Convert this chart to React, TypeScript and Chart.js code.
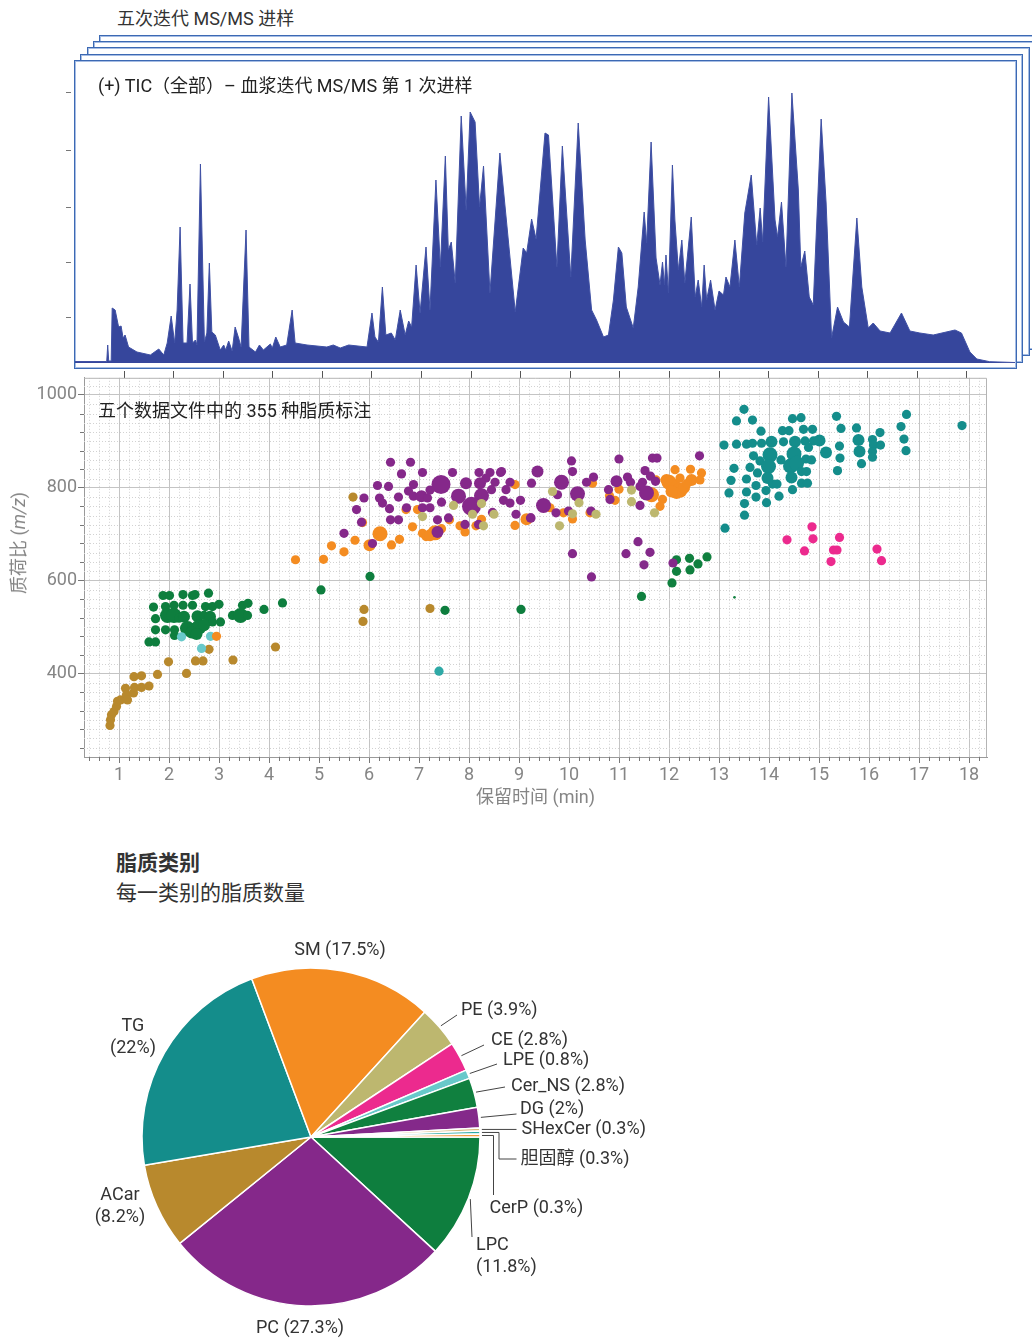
import React, { useEffect, useRef } from 'react';
import { Chart, registerables } from 'chart.js';

Chart.register(...registerables);

const FONT = "Roboto, 'Noto Sans CJK SC', 'Noto Sans', sans-serif";
Chart.defaults.font.family = FONT;

// ---------------- TIC chromatogram: [retention time (min), intensity] ----------------
const TIC_POINTS = [
  [0.02,1.5],[0.66,1.5],[0.68,18],[0.70,2],[0.75,2],[0.77,55],[0.83,53],[0.90,36],[0.95,37],[0.99,25],[1.03,28],[1.10,16],[1.27,11],[1.54,8],[1.71,14],[1.81,8],[1.88,20],[1.96,47],[2.03,20],[2.08,53],[2.14,136],[2.20,20],[2.28,20],[2.34,79],[2.39,20],[2.45,23],[2.48,18],[2.55,199],[2.63,21],[2.68,30],[2.73,100],[2.78,31],[2.85,28],[2.95,13],[3.02,18],[3.06,13],[3.12,22],[3.19,12],[3.25,36],[3.32,25],[3.37,16],[3.47,133],[3.53,16],[3.66,11],[3.74,18],[3.82,13],[3.96,19],[4.00,15],[4.07,26],[4.16,16],[4.29,18],[4.40,53],[4.46,20],[4.70,18],[5.10,16],[5.23,18],[5.37,15],[5.54,18],[5.91,16],[6.01,50],[6.07,26],[6.14,21],[6.22,76],[6.29,28],[6.40,30],[6.48,23],[6.58,53],[6.68,28],[6.75,42],[6.81,36],[6.90,98],[6.98,50],[7.10,116],[7.18,53],[7.30,183],[7.39,96],[7.49,207],[7.55,113],[7.61,121],[7.69,80],[7.81,247],[7.91,153],[7.99,251],[8.09,241],[8.18,156],[8.26,197],[8.39,70],[8.59,210],[8.90,51],[9.06,115],[9.13,110],[9.23,144],[9.32,124],[9.50,230],[9.57,228],[9.74,96],[9.85,217],[10.02,86],[10.17,240],[10.31,123],[10.44,53],[10.54,43],[10.68,26],[10.78,28],[10.88,63],[10.98,116],[11.05,110],[11.14,56],[11.28,35],[11.38,76],[11.50,151],[11.55,120],[11.64,221],[11.74,105],[11.82,78],[11.87,101],[11.91,78],[11.94,108],[11.99,70],[12.07,198],[12.12,143],[12.19,93],[12.26,123],[12.32,80],[12.45,146],[12.53,66],[12.59,83],[12.66,56],[12.71,98],[12.76,63],[12.84,83],[12.93,53],[13.01,72],[13.10,68],[13.15,86],[13.23,76],[13.33,123],[13.42,76],[13.53,150],[13.66,188],[13.77,118],[13.84,155],[13.89,121],[14.01,266],[14.14,143],[14.19,126],[14.27,161],[14.36,96],[14.48,270],[14.61,173],[14.66,96],[14.74,112],[14.83,66],[14.91,58],[15.07,244],[15.17,160],[15.28,25],[15.40,56],[15.52,41],[15.64,36],[15.79,145],[15.89,76],[16.02,35],[16.12,40],[16.26,32],[16.46,30],[16.69,50],[16.86,32],[17.06,30],[17.33,28],[17.77,33],[17.90,30],[18.07,11],[18.21,4],[18.47,1.3],[18.98,0.5],
];
const TIC_X_TICKS = [1,2,3,4,5,6,7,8,9,10,11,12,13,14,15,16,17,18];
const TIC_Y_TICKS = [46, 101, 156, 213, 271];

// ---------------- Lipid annotations: [retention time (min), m/z, abundance class] ----------------
const ACAR_PTS = [[0.82,288,1],[0.83,300,1],[0.85,311,1],[0.9,318,1],[0.95,329,1],[0.97,340,1],[1.03,343,1],[1.13,368,1],[1.15,354,1],[1.17,343,1],[1.29,358,1],[1.31,370,1],[1.45,370,1],[1.3,393,1],[1.45,395,1],[1.6,373,1],[1.77,398,1],[1.99,425,1],[2.35,400,1],[2.53,427,1],[2.68,427,1],[2.8,452,1],[3.28,429,1],[4.13,457,1],[5.68,780,1],[5.9,538,1],[5.88,512,1],[7.22,540,1]];
const LPC_PTS = [[1.88,568,1],[2.01,568,1],[2.28,570,1],[2.47,568,1],[2.52,570,1],[2.79,573,1],[1.69,543,1],[1.93,544,1],[2.1,547,1],[2.28,547,1],[2.47,547,1],[2.73,544,1],[2.87,544,1],[3.0,549,1],[1.73,518,1],[1.97,525,3],[2.1,525,3],[2.2,519,1],[2.3,522,2],[2.57,523,2],[2.7,525,1],[2.82,522,2],[2.87,511,1],[3.03,511,1],[1.73,494,1],[1.93,494,1],[2.11,494,1],[2.11,482,1],[2.37,497,3],[2.5,493,3],[2.6,500,3],[2.7,504,2],[2.45,488,2],[2.55,485,2],[1.6,468,1],[1.73,468,1],[3.27,525,1],[3.43,525,3],[3.57,525,1],[3.47,547,1],[3.58,551,1],[3.9,538,1],[4.27,552,1],[5.04,580,1],[6.02,609,1],[7.52,536,1],[9.04,538,1]];
const CERNS_PTS = [[12.15,645,1],[12.41,648,1],[12.58,636,1],[12.76,651,1],[12.15,620,1],[12.42,623,1],[12.06,595,1],[11.45,566,1],[13.31,564,0]];
const DG_PTS = [[10.07,658,1],[10.45,608,1],[11.14,658,1],[11.38,684,1],[11.62,661,1],[11.5,634,1],[12.08,638,1]];
const CE_PTS = [[14.36,688,1],[14.86,716,1],[14.88,690,1],[14.71,664,1],[15.41,693,1],[15.29,666,1],[15.36,666,1],[15.24,641,1],[16.16,668,1],[16.25,643,1]];
const LPE_PTS = [[2.25,479,1],[2.83,480,1],[2.65,454,1]];
const PE_PTS = [[7.07,738,1],[7.69,762,1],[8.07,743,1],[8.25,766,1],[8.29,718,1],[8.5,743,1],[9.67,792,1],[10.2,768,1],[10.54,743,1],[10.07,744,1],[9.81,718,1],[11.25,795,1],[11.25,770,1],[11.71,746,1]];
const SM_PTS = [[2.95,480,1],[4.53,645,1],[5.09,646,1],[5.25,675,1],[5.5,662,1],[5.72,687,1],[6.01,676,2],[6.22,701,3],[6.45,677,1],[6.61,689,1],[5.87,725,1],[6.74,753,1],[6.97,753,1],[6.87,716,1],[7.07,702,1],[7.14,695,1],[7.32,703,3],[7.22,698,2],[7.61,731,1],[7.82,718,1],[7.92,705,1],[8.14,718,1],[8.25,732,1],[8.92,807,1],[8.92,719,1],[9.15,732,2],[9.62,757,1],[9.89,746,1],[10.07,733,1],[10.42,746,1],[10.47,810,1],[10.81,783,1],[11.0,797,1],[10.92,773,1],[11.65,785,3],[11.74,817,1],[11.87,775,1],[11.82,760,1],[12.12,839,1],[12.43,840,1],[12.65,832,1],[12.45,817,2],[12.62,817,1],[12.09,803,3],[12.0,812,3],[12.22,795,3],[11.95,817,2],[12.15,789,2],[12.05,792,2],[12.22,821,1],[12.3,800,2],[12.36,809,1],[7.45,712,1]];
const PC_PTS = [[5.5,702,1],[5.75,753,1],[5.85,726,1],[5.9,778,1],[6.07,680,1],[6.17,805,1],[6.39,803,1],[6.43,855,1],[6.83,855,1],[6.65,830,1],[7.07,833,1],[7.67,833,1],[8.2,833,1],[8.42,833,1],[8.63,833,1],[8.34,821,1],[6.89,807,1],[7.44,807,4],[7.94,810,2],[8.22,810,2],[8.52,812,1],[8.82,812,1],[6.21,778,1],[6.27,767,1],[6.59,780,1],[6.79,793,1],[6.89,782,1],[7.05,782,2],[7.22,795,1],[7.17,778,1],[7.79,782,3],[8.25,783,3],[8.45,796,1],[8.74,796,1],[8.69,773,1],[8.82,767,1],[9.03,773,1],[6.41,755,1],[6.75,757,1],[7.07,757,1],[7.22,757,1],[7.45,769,1],[8.05,760,4],[8.47,747,1],[6.43,731,1],[6.59,731,1],[7.37,731,1],[7.59,735,1],[8.94,743,1],[7.92,721,1],[8.19,721,1],[7.37,705,2],[8.65,835,1],[9.37,835,2],[9.25,810,1],[9.23,735,1],[10.05,858,1],[11.0,862,1],[11.67,864,1],[11.76,864,1],[12.61,869,1],[10.07,835,1],[11.52,837,1],[9.85,812,3],[10.35,812,1],[10.49,823,1],[10.95,814,2],[11.17,823,1],[11.23,812,1],[11.47,812,1],[11.63,825,1],[11.73,814,1],[10.17,787,3],[9.77,785,1],[10.79,796,1],[10.82,775,1],[11.42,803,1],[11.55,789,3],[9.49,762,3],[9.24,735,1],[9.74,746,1],[9.99,750,1],[10.44,750,1],[11.42,762,1]];
const TG_PTS = [[13.5,969,1],[13.35,944,1],[13.67,946,1],[14.47,949,1],[14.64,951,1],[15.35,954,1],[16.75,958,1],[13.84,922,1],[14.27,923,1],[14.4,923,1],[14.69,926,1],[14.87,926,1],[15.44,928,1],[15.75,929,1],[16.64,932,1],[16.22,919,1],[13.1,892,1],[13.35,894,1],[13.55,894,1],[13.67,896,1],[13.85,896,1],[14.05,899,2],[14.29,899,1],[14.52,899,2],[14.72,901,1],[14.89,901,1],[15.01,902,2],[15.41,890,1],[15.79,903,2],[16.07,904,1],[16.09,892,1],[16.23,892,1],[16.7,905,1],[13.69,869,1],[14.02,871,3],[14.24,860,1],[14.5,873,3],[14.79,887,1],[14.74,862,1],[14.85,860,1],[15.14,876,2],[15.42,864,1],[15.81,878,2],[16.07,878,1],[16.07,866,1],[16.74,880,1],[13.82,858,1],[13.3,842,1],[13.62,844,1],[13.99,846,3],[14.43,847,3],[14.55,853,3],[15.37,837,1],[15.85,852,1],[13.24,816,1],[13.55,819,1],[13.77,832,1],[13.97,821,2],[14.45,822,2],[14.65,835,1],[14.75,835,1],[13.74,805,1],[14.07,808,1],[14.16,808,1],[14.65,810,1],[14.77,810,1],[13.2,789,1],[13.55,791,1],[13.94,794,1],[14.47,796,1],[13.74,780,1],[14.2,782,1],[13.51,766,1],[13.95,768,1],[13.51,741,1],[13.12,713,1],[17.86,934,1]];
const CHOL_PTS = [[7.4,405,1]];

const SCATTER_X_TICK_VALUES = [1,2,3,4,5,6,7,8,9,10,11,12,13,14,15,16,17,18];
const SCATTER_Y_TICK_VALUES = [400, 600, 800, 1000];
const SCATTER_X_RANGE = { min: 0.3, max: 18.36, step: 1, minor: 0.2 };
const SCATTER_Y_RANGE = { min: 220, max: 1037, step: 200, minorGrid: 20, minorTick: 40 };

// ---------------- Pie: lipid counts per class ----------------
const PIE_CLASSES = ['LPC', 'PC', 'ACar', 'TG', 'SM', 'PE', 'CE', 'LPE', 'Cer_NS', 'DG', 'SHexCer', '胆固醇', 'CerP'];
const PIE_COUNTS = [42, 97, 29, 78, 62, 14, 10, 3, 10, 7, 1, 1, 1];

// ---------------- styles ----------------
const COLORS = {
  LPC: '#0e7e3e', PC: '#85288a', ACar: '#b8892d', TG: '#148d8b', SM: '#f48c21', PE: '#bdb76f',
  CE: '#ec2a8e', LPE: '#68c9ca', Cer_NS: '#10803f', DG: '#84298a', SHexCer: '#d9b77a', '胆固醇': '#2ea9a6', CerP: '#f39a3c',
};
const SIZE_RADIUS = [1.3, 4.6, 6, 7.5, 9.5];

// label layout relative to pie centre (px)
const PIE_LABEL_LAYOUT = [
  { at: [165, 108], align: 'left', split: true, leader: [[161, 100]] },           // LPC
  { at: [-11, 191], align: 'center', split: false },                                 // PC
  { at: [-191, 58], align: 'center', split: true },                                  // ACar
  { at: [-178, -111], align: 'center', split: true },                                // TG
  { at: [29, -187], align: 'center', split: false },                                 // SM
  { at: [150, -127], align: 'left', split: false, leader: [[146, -122]] },           // PE
  { at: [180, -97], align: 'left', split: false, leader: [[173, -92]] },             // CE
  { at: [192, -77], align: 'left', split: false, leader: [[186, -73]] },             // LPE
  { at: [200, -51], align: 'left', split: false, leader: [[194, -50]] },             // Cer_NS
  { at: [209, -28], align: 'left', split: false, leader: [[205.5, -23]] },           // DG
  { at: [210.5, -8], align: 'left', split: false, leader: [[205.5, null]] },         // SHexCer
  { at: [209.5, 22], align: 'left', split: false, leader: [[188, null], [188, 22], [205.5, 22]] }, // 胆固醇
  { at: [178.5, 71], align: 'left', split: false, leader: [[182.5, null], [182.5, 58]] },          // CerP
];

const ticDecor = {
  id: 'ticDecor',
  afterDraw(chart: any) {
    const { ctx, chartArea: a, scales } = chart;
    ctx.save();
    ctx.strokeStyle = '#555';
    ctx.lineWidth = 1;
    for (const t of TIC_X_TICKS) {
      const px = Math.round(scales.x.getPixelForValue(t)) + 0.5;
      ctx.beginPath();
      ctx.moveTo(px, a.bottom + 8);
      ctx.lineTo(px, a.bottom + 15);
      ctx.stroke();
    }
    ctx.strokeStyle = '#777';
    for (const v of TIC_Y_TICKS) {
      const py = Math.round(scales.y.getPixelForValue(v)) + 0.5;
      ctx.beginPath();
      ctx.moveTo(a.left - 8, py);
      ctx.lineTo(a.left - 3, py);
      ctx.stroke();
    }
    ctx.restore();
  },
};

const scatterDecor = {
  id: 'scatterDecor',
  beforeDatasetsDraw(chart: any) {
    const { ctx, chartArea: a, scales: { x, y } } = chart;
    ctx.save();
    ctx.beginPath();
    ctx.rect(a.left, a.top, a.width, a.height);
    ctx.clip();
    ctx.strokeStyle = '#d2d2d2';
    ctx.lineWidth = 1;
    ctx.setLineDash([1, 2]);
    const xs = SCATTER_X_RANGE, ys = SCATTER_Y_RANGE;
    const nx = Math.round(xs.step / xs.minor);
    for (let k = Math.ceil(xs.min / xs.minor); k * xs.minor <= xs.max; k++) {
      if (k % nx === 0) continue;
      const px = Math.round(x.getPixelForValue(k * xs.minor)) + 0.5;
      ctx.beginPath(); ctx.moveTo(px, a.top); ctx.lineTo(px, a.bottom); ctx.stroke();
    }
    const ny = Math.round(ys.step / ys.minorGrid);
    for (let k = Math.ceil(ys.min / ys.minorGrid); k * ys.minorGrid <= ys.max; k++) {
      if (k % ny === 0) continue;
      const py = Math.round(y.getPixelForValue(k * ys.minorGrid)) + 0.5;
      ctx.beginPath(); ctx.moveTo(a.left, py); ctx.lineTo(a.right, py); ctx.stroke();
    }
    ctx.restore();
  },
  afterDatasetsDraw(chart: any) {
    const { ctx, chartArea: a, scales: { x, y } } = chart;
    const xs = SCATTER_X_RANGE, ys = SCATTER_Y_RANGE;
    ctx.save();
    ctx.strokeStyle = '#b4b4b4';
    ctx.lineWidth = 1;
    ctx.beginPath();
    ctx.moveTo(a.left, a.top + 0.5); ctx.lineTo(a.right - 0.5, a.top + 0.5); ctx.lineTo(a.right - 0.5, a.bottom);
    ctx.stroke();
    ctx.strokeStyle = '#777';
    const nx = Math.round(xs.step / xs.minor);
    for (let k = Math.ceil(xs.min / xs.minor); k * xs.minor <= xs.max; k++) {
      if (k % nx === 0) continue;
      const px = Math.round(x.getPixelForValue(k * xs.minor)) + 0.5;
      ctx.beginPath(); ctx.moveTo(px, a.bottom); ctx.lineTo(px, a.bottom + 4); ctx.stroke();
    }
    const ny = Math.round(ys.step / ys.minorTick);
    for (let k = Math.ceil(ys.min / ys.minorTick); k * ys.minorTick <= ys.max; k++) {
      if (k % ny === 0) continue;
      const py = Math.round(y.getPixelForValue(k * ys.minorTick)) + 0.5;
      ctx.beginPath(); ctx.moveTo(a.left - 4, py); ctx.lineTo(a.left, py); ctx.stroke();
    }
    ctx.restore();
  },
};

const pieLabels = {
  id: 'pieLabels',
  afterDraw(chart: any) {
    const { ctx } = chart;
    const meta = chart.getDatasetMeta(0);
    const total = PIE_COUNTS.reduce((s, v) => s + v, 0);
    ctx.save();
    ctx.font = `18px ${FONT}`;
    ctx.fillStyle = '#333';
    ctx.strokeStyle = '#444';
    ctx.lineWidth = 1;
    ctx.textBaseline = 'middle';
    meta.data.forEach((arc: any, i: number) => {
      const p = arc.getProps(['x', 'y', 'startAngle', 'endAngle', 'outerRadius'], true);
      const lay = PIE_LABEL_LAYOUT[i];
      const mid = (p.startAngle + p.endAngle) / 2;
      const sx = p.x + Math.cos(mid) * (p.outerRadius + 2);
      const sy = p.y + Math.sin(mid) * (p.outerRadius + 2);
      if (lay.leader) {
        ctx.beginPath();
        ctx.moveTo(sx, sy);
        for (const [dx, dy] of lay.leader) ctx.lineTo(p.x + dx, dy === null ? sy : p.y + dy);
        ctx.stroke();
      }
      const pct = parseFloat(((PIE_COUNTS[i] / total) * 100).toFixed(1));
      const lines = lay.split ? [PIE_CLASSES[i], `(${pct}%)`] : [`${PIE_CLASSES[i]} (${pct}%)`];
      ctx.textAlign = lay.align;
      lines.forEach((ln, j) => ctx.fillText(ln, p.x + lay.at[0], p.y + lay.at[1] + j * 22));
    });
    ctx.restore();
  },
};

function useChart(ref: any, build: () => any) {
  useEffect(() => {
    const chart = new Chart(ref.current.getContext('2d'), build());
    return () => chart.destroy();
  }, []);
}

const tickFont = { size: 18, family: FONT };

export default function App() {
  const ticRef = useRef<HTMLCanvasElement>(null);
  const scatterRef = useRef<HTMLCanvasElement>(null);
  const pieRef = useRef<HTMLCanvasElement>(null);

  useChart(ticRef, () => ({
    type: 'line',
    data: {
      datasets: [{
        data: TIC_POINTS.map(([x, y]) => ({ x, y })),
        fill: 'origin',
        backgroundColor: '#36469c',
        borderColor: '#3f50a4',
        borderWidth: 1,
        pointRadius: 0,
        tension: 0,
      }],
    },
    options: {
      responsive: false, animation: false, events: [],
      layout: { padding: { left: 14, right: 4, top: 3, bottom: 17 } },
      scales: {
        x: { type: 'linear', min: 0, max: 19, display: false },
        y: { type: 'linear', min: 0, max: 300, display: false },
      },
      plugins: { legend: { display: false }, tooltip: { enabled: false } },
    },
    plugins: [ticDecor],
  }));

  useChart(scatterRef, () => {
    const series = [
      { label: 'PE', color: COLORS.PE, pts: PE_PTS },
      { label: 'DG', color: COLORS.DG, pts: DG_PTS },
      { label: 'PC', color: COLORS.PC, pts: PC_PTS },
      { label: 'SM', color: COLORS.SM, pts: SM_PTS },
      { label: '胆固醇', color: COLORS['胆固醇'], pts: CHOL_PTS },
      { label: 'CE', color: COLORS.CE, pts: CE_PTS },
      { label: 'TG', color: COLORS.TG, pts: TG_PTS },
      { label: 'Cer_NS', color: COLORS.Cer_NS, pts: CERNS_PTS },
      { label: 'LPE', color: COLORS.LPE, pts: LPE_PTS },
      { label: 'LPC', color: COLORS.LPC, pts: LPC_PTS },
      { label: 'ACar', color: COLORS.ACar, pts: ACAR_PTS },
    ];
    return {
      type: 'bubble',
      data: {
        datasets: series.map((s) => ({
          label: s.label,
          data: s.pts.map(([x, y, sz]) => ({ x, y, r: SIZE_RADIUS[sz] })),
          backgroundColor: s.color,
          borderWidth: 0,
        })),
      },
      options: {
        responsive: false, animation: false, events: [],
        layout: { padding: { top: 10, right: 13, left: 0, bottom: 0 } },
        scales: {
          x: {
            type: 'linear', min: SCATTER_X_RANGE.min, max: SCATTER_X_RANGE.max,
            afterBuildTicks: (s: any) => { s.ticks = SCATTER_X_TICK_VALUES.map((value) => ({ value })); },
            ticks: { color: '#858585', font: tickFont, padding: 2, maxRotation: 0, autoSkip: false, callback: (v: any) => String(v) },
            grid: { color: '#c4c4c4', tickColor: '#777', tickLength: 6 },
            border: { color: '#9a9a9a' },
            title: { display: true, text: '保留时间 (min)', color: '#858585', font: tickFont, padding: { top: 0, bottom: 7 } },
            afterFit: (s: any) => { s.height = 59; },
          },
          y: {
            type: 'linear', min: SCATTER_Y_RANGE.min, max: SCATTER_Y_RANGE.max,
            afterBuildTicks: (s: any) => { s.ticks = SCATTER_Y_TICK_VALUES.map((value) => ({ value })); },
            ticks: { color: '#858585', font: tickFont, padding: 1, autoSkip: false, callback: (v: any) => String(v) },
            grid: { color: '#c4c4c4', tickColor: '#777', tickLength: 6 },
            border: { color: '#9a9a9a' },
            afterFit: (s: any) => { s.width = 84; },
          },
        },
        plugins: { legend: { display: false }, tooltip: { enabled: false } },
      },
      plugins: [scatterDecor],
    };
  });

  useChart(pieRef, () => ({
    type: 'pie',
    data: {
      labels: PIE_CLASSES,
      datasets: [{
        data: PIE_COUNTS,
        backgroundColor: PIE_CLASSES.map((c) => (COLORS as any)[c]),
        borderColor: '#ffffff',
        borderWidth: 1.5,
        hoverOffset: 0,
      }],
    },
    options: {
      responsive: false, animation: false, events: [],
      rotation: 90,
      radius: 169,
      layout: { padding: { left: 52, right: 190, top: 38, bottom: 32 } },
      plugins: { legend: { display: false }, tooltip: { enabled: false } },
    },
    plugins: [pieLabels],
  }));

  const text = (left: number, cy: number, size: number, extra: any = {}) => ({
    position: 'absolute' as const, left, top: cy - 13, lineHeight: '26px', fontSize: size,
    color: '#333', whiteSpace: 'nowrap' as const, ...extra,
  });

  const frames = [4, 3, 2, 1, 0].map((k) => (
    <div key={k} style={{
      position: 'absolute', left: 74 + Math.round(k * 6.25), top: 60 - Math.round(k * 6.25),
      width: 943, height: 309, boxSizing: 'border-box', background: '#fff',
      border: '1px solid #3c69b3', boxShadow: 'inset 1px 1px 0 #a6bde4, inset -1px -1px 0 #a6bde4',
    }} />
  ));

  return (
    <div style={{ position: 'absolute', left: 0, top: 0, width: 1032, height: 1338, overflow: 'hidden', background: '#fff', fontFamily: FONT }}>
      <div style={text(117, 19, 18)}>五次迭代 MS/MS 进样</div>
      {frames}
      <canvas ref={ticRef} width={960} height={320} style={{ position: 'absolute', left: 60, top: 60 }} />
      <div style={text(98, 86, 18, { color: '#222' })}>(+) TIC（全部）– 血浆迭代 MS/MS 第 1 次进样</div>
      <canvas ref={scatterRef} width={1000} height={450} style={{ position: 'absolute', left: 0, top: 366 }} />
      <div style={text(98, 411, 18, { color: '#222' })}>五个数据文件中的 355 种脂质标注</div>
      <div style={{ position: 'absolute', left: 17, top: 543, transform: 'translate(-50%, -50%) rotate(-90deg)', fontSize: 18, color: '#858585', whiteSpace: 'nowrap' }}>
        质荷比 (<i>m/z</i>)
      </div>
      <div style={text(116, 863, 21, { fontWeight: 700 })}>脂质类别</div>
      <div style={text(116, 893, 21)}>每一类别的脂质数量</div>
      <canvas ref={pieRef} width={580} height={408} style={{ position: 'absolute', left: 90, top: 930 }} />
    </div>
  );
}
